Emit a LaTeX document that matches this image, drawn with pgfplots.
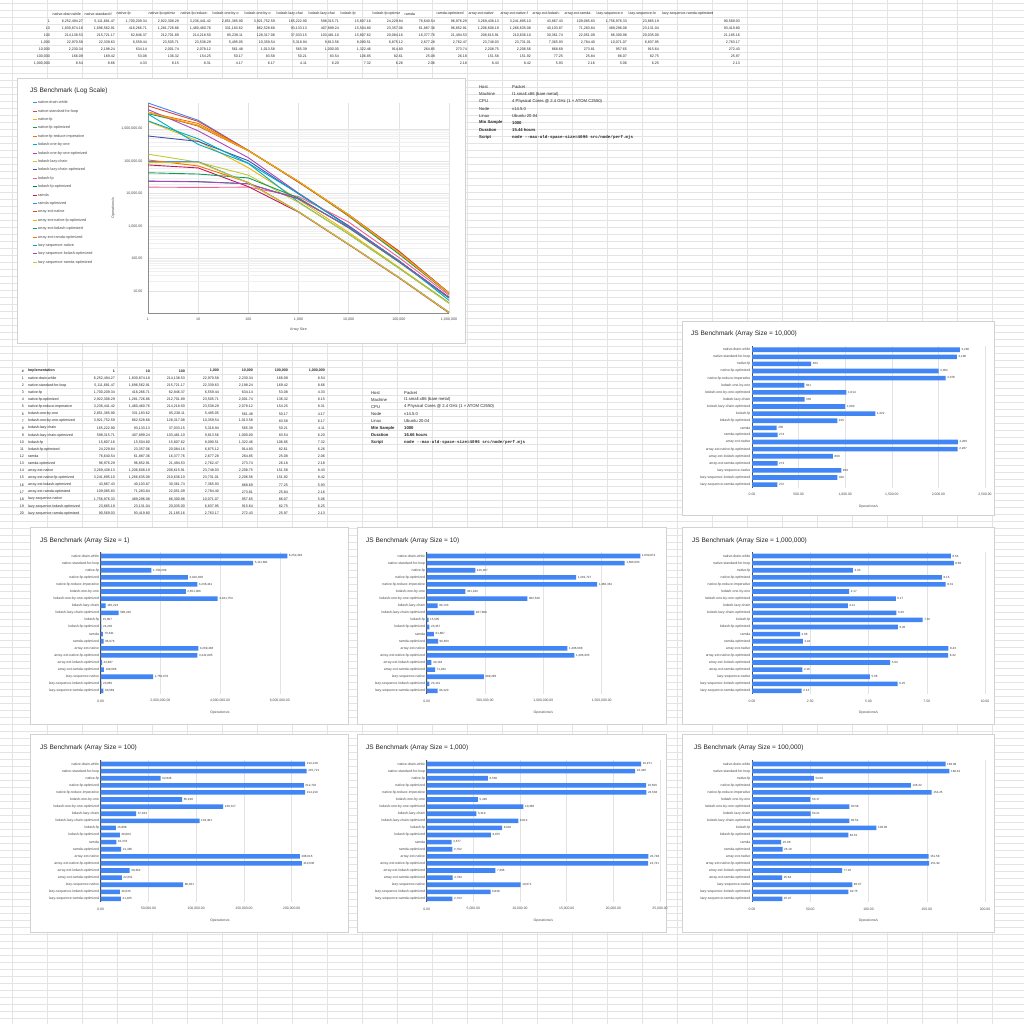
\documentclass[border=0pt]{standalone}
\usepackage{pgfplots}
\usepackage{pgfplotstable}
\pgfplotsset{compat=1.18}
\usepackage{fontspec}
\setmainfont{Liberation Sans}
\setmonofont{Liberation Mono}

\definecolor{s1}{HTML}{4285F4}
\definecolor{s2}{HTML}{DB4437}
\definecolor{s3}{HTML}{F4B400}
\definecolor{s4}{HTML}{0F9D58}
\definecolor{s5}{HTML}{FF6D00}
\definecolor{s6}{HTML}{00ACC1}
\definecolor{s7}{HTML}{AB47BC}
\definecolor{s8}{HTML}{C0CA33}
\definecolor{s9}{HTML}{3F51B5}
\definecolor{s10}{HTML}{F06292}
\definecolor{s11}{HTML}{00796B}
\definecolor{s12}{HTML}{C2185B}
\colorlet{s13}{s1}
\colorlet{s14}{s2}
\colorlet{s15}{s3}
\colorlet{s16}{s4}
\colorlet{s17}{s5}
\colorlet{s18}{s6}
\colorlet{s19}{s7}
\colorlet{s20}{s8}
\definecolor{barblue}{HTML}{4285F4}
\definecolor{sgrid}{HTML}{E4E4E4}
\definecolor{cgrid}{HTML}{E3E3E3}
\definecolor{boxc}{HTML}{D2D2D2}
\definecolor{ttlc}{HTML}{222222}
\definecolor{lbl}{HTML}{4A4A4A}

\pgfplotstableread{
name s1 s10 s100 s1k s10k s100k s1m
native-drain-while 6252494.27 1830874.18 214138.53 22970.58 2230.34 166.09 8.54
native-standard-for-loop 5111681.47 1696562.91 215721.17 22339.63 2198.24 169.42 8.66
native-fp 1700209.34 416266.71 62846.37 6559.44 634.14 53.08 4.33
native-fp-optimized 2922308.29 1281726.86 212701.89 23505.71 2001.74 136.32 8.15
native-fp-reduce-imperative 3236441.42 1460460.76 214218.50 23538.29 2078.12 154.25 8.31
lodash-one-by-one 2851385.90 331183.62 85238.11 5495.05 561.48 50.17 4.17
lodash-one-by-one-optimized 3921752.59 862528.68 128317.08 10359.54 1013.58 83.58 6.17
lodash-lazy-chain 165222.90 93133.13 37033.15 5318.94 565.39 50.21 4.11
lodash-lazy-chain-optimized 598315.71 407899.24 103481.10 9813.56 1000.00 83.54 6.20
lodash-fp 15807.16 15504.80 15807.62 8090.51 1322.46 106.85 7.32
lodash-fp-optimized 24229.84 23357.06 20084.16 6875.12 914.80 82.61 6.26
ramda 76640.54 61887.36 16377.76 2677.28 264.85 25.08 2.06
ramda-optimized 96976.29 96852.91 21494.53 2762.47 273.74 26.18 2.18
array-ext-native 3269438.13 1206608.19 208615.91 23748.03 2208.75 151.58 8.43
array-ext-native-fp-optimized 3241895.10 1266635.08 210636.10 23731.01 2206.56 151.92 8.42
array-ext-lodash-optimized 43867.43 40103.87 30361.74 7365.93 868.69 77.25 5.93
array-ext-ramda-optimized 109085.83 71283.84 22051.09 2784.40 273.81 25.84 2.16
lazy-sequence-native 1756976.33 489296.08 86300.98 10071.07 957.65 86.07 5.06
lazy-sequence-lodash-optimized 23865.19 23131.04 20035.00 6837.95 915.64 82.75 6.25
lazy-sequence-ramda-optimized 90569.03 93419.80 21185.16 2763.17 272.43 25.97 2.13
}\benchI
\pgfplotstabletranspose[colnames from=name]\benchT\benchI

\pgfset{/pgf/number format/fix2/.style={/pgf/number format/.cd,fixed,fixed zerofill,precision=2,1000 sep={,},assume math mode=true}}

\pgfplotsset{
 barst/.style={
  xbar, scale only axis, width=233pt, height=142pt, anchor=south west,
  ymin=-0.5, ymax=19.5, y dir=reverse, xmin=0,
  ytick={0,...,19}, yticklabels from table={\benchI}{name},
  bar width=4.6pt,
  major tick length=0pt,
  axis line style={draw=none},
  xmajorgrids, grid style={draw=cgrid, line width=0.4pt},
  extra x ticks={0}, extra x tick labels={},
  extra x tick style={grid style={draw=black!70, line width=0.5pt}},
  scaled x ticks=false,
  xticklabel style={font=\fontsize{3.4}{4}\selectfont, text=lbl, anchor=center, yshift=-6.5pt, /pgf/number format/fix2},
  yticklabel style={font=\fontsize{3.5}{4}\selectfont, text=lbl, anchor=east, inner sep=0.5pt, xshift=-1pt},
  xlabel={Operations/s},
  xlabel style={font=\fontsize{3.4}{4}\selectfont, text=lbl, at={(axis description cs:0.5,-0.127)}, anchor=center},
  point meta=explicit symbolic,
  every node near coord/.append style={font=\fontsize{3}{3.5}\selectfont, text=black!80, anchor=west, xshift=1.5pt, inner sep=0pt},
  clip=false,
 },
 nnc0/.style={nodes near coords={\pgfmathprintnumber[fixed,precision=0,1000 sep={,},assume math mode=true]{\pgfplotspointmeta}}},
 nnc2/.style={nodes near coords={\pgfmathprintnumber[fixed,fixed zerofill,precision=2,1000 sep={,},assume math mode=true]{\pgfplotspointmeta}}},
}

\newcommand\topcol[2]{\pgfplotstableforeachcolumnelement{#1}\of\benchI\as\cell{%
  \node[tbl, anchor=east] at ({\pgfplotstablerow<19 ? 83+32*\pgfplotstablerow : 740}, {21+7*#2}) {\pgfmathprintnumber[fix2]{\cell}};}}
\newcommand\seccol[2]{\pgfplotstableforeachcolumnelement{#1}\of\benchI\as\cell{%
  \node[tbl, anchor=east] at (#2, {378.3+7.1*\pgfplotstablerow}) {\pgfmathprintnumber[fix2]{\cell}};}}
\newcommand\infotable[4]{%
  \node[inf] at (#1,{#2}) {Host};            \node[inf] at (#1+33,{#2}) {Packet};
  \node[inf] at (#1,{#2+7.1}) {Machine};     \node[inf] at (#1+33,{#2+7.1}) {t1.small.x86 (bare metal)};
  \node[inf] at (#1,{#2+14.2}) {CPU};        \node[inf] at (#1+33,{#2+14.2}) {4 Physical Cores @ 2.4 GHz (1 × ATOM C2550)};
  \node[inf] at (#1,{#2+21.3}) {Node};       \node[inf] at (#1+33,{#2+21.3}) {v14.5.0};
  \node[inf] at (#1,{#2+28.4}) {Linux};      \node[inf] at (#1+33,{#2+28.4}) {#3};
  \node[inf,font=\fontsize{4.2}{5}\selectfont\bfseries] at (#1,{#2+35.5}) {Min Sample}; \node[inf,font=\fontsize{4.2}{5}\selectfont\bfseries] at (#1+33,{#2+35.5}) {1000};
  \node[inf,font=\fontsize{4.2}{5}\selectfont\bfseries] at (#1,{#2+42.6}) {Duration};   \node[inf,font=\fontsize{4.2}{5}\selectfont\bfseries] at (#1+33,{#2+42.6}) {#4};
  \node[inf,font=\fontsize{4.2}{5}\selectfont\bfseries] at (#1,{#2+49.7}) {Script};     \node[inf,font=\fontsize{4.2}{5}\selectfont\ttfamily\bfseries] at (#1+33,{#2+49.7}) {node -{}-max-old-space-size=4096 src/node/perf.mjs};
}

\begin{document}
\begin{tikzpicture}[x=1pt,y=-1pt,
  tbl/.style={font=\fontsize{3.6}{4}\selectfont, inner sep=0pt, text=black!85},
  tblb/.style={tbl, font=\fontsize{3.6}{4}\selectfont\bfseries},
  inf/.style={font=\fontsize{4.2}{5}\selectfont, inner sep=0pt, anchor=west, text=black!85},
  ttl/.style={font=\fontsize{6.5}{7}\selectfont, inner sep=0pt, anchor=west, text=ttlc},
  cbox/.style={draw=boxc, fill=white, line width=0.5pt}]
\fill[white] (0,0) rectangle (1024,1024);
\useasboundingbox (0,0) rectangle (1024,1024);
% spreadsheet grid
\foreach \yy in {3.5,10.5,...,1024}{\draw[sgrid, line width=0.35pt] (0,\yy) -- (1024,\yy);}
\foreach \xx in {12,47,...,1024}{\draw[sgrid, line width=0.35pt] (\xx,0) -- (\xx,1024);}

% top table
\foreach \t [count=\i from 0] in {native-drain-while,native-standard-f,native-fp,native-fp-optimiz,native-fp-reduce-,lodash-one-by-o,lodash-one-by-o,lodash-lazy-chai,lodash-lazy-chai,lodash-fp,lodash-fp-optimiz,ramda,ramda-optimized,array-ext-native,array-ext-native-f,array-ext-lodash-,array-ext-ramda-,lazy-sequence-n,lazy-sequence-lo,lazy-sequence-ramda-optimized}{
  \node[tbl, anchor=west] at ({\i<19 ? 52.5+32*\i : 662}, 14) {\t};
}
\foreach \t [count=\k from 0] in {1,10,100,{1,000},{10,000},{100,000},{1,000,000}}{
  \node[tbl, anchor=east] at (50, {21+7*\k}) {\t};
}
\topcol{s1}{0}\topcol{s10}{1}\topcol{s100}{2}\topcol{s1k}{3}\topcol{s10k}{4}\topcol{s100k}{5}\topcol{s1m}{6}

% second table
\node[tblb, anchor=east] at (24,371) {\#};
\node[tblb, anchor=west] at (28,371) {Implementation};
\node[tblb, anchor=east] at (115,371) {1};
\node[tblb, anchor=east] at (150,371) {10};
\node[tblb, anchor=east] at (185,371) {100};
\node[tblb, anchor=east] at (219,371) {1,000};
\node[tblb, anchor=east] at (253,371) {10,000};
\node[tblb, anchor=east] at (288,371) {100,000};
\node[tblb, anchor=east] at (325,371) {1,000,000};
\pgfplotstableforeachcolumnelement{name}\of\benchI\as\cell{%
  \node[tbl, anchor=west] at (28,{378.3+7.1*\pgfplotstablerow}) {\cell};
  \node[tbl, anchor=east] at (24,{378.3+7.1*\pgfplotstablerow}) {\pgfmathtruncatemacro\rn{\pgfplotstablerow+1}\rn};}
\seccol{s1}{115}\seccol{s10}{150}\seccol{s100}{185}\seccol{s1k}{219}\seccol{s10k}{253}\seccol{s100k}{288}\seccol{s1m}{325}

% info tables
\infotable{479}{87.3}{Ubuntu 20.04}{15.44 hours}
\infotable{371}{392.7}{Ubuntu 20.04}{16.66 hours}

% chart boxes
\draw[cbox] (17,78) rectangle (465,343);
\draw[cbox] (682,321) rectangle (994,515);
\draw[cbox] (30,527) rectangle (348,724);
\draw[cbox] (357,527) rectangle (666,724);
\draw[cbox] (682,527) rectangle (994,724);
\draw[cbox] (30,734) rectangle (348,932);
\draw[cbox] (357,734) rectangle (666,932);
\draw[cbox] (682,734) rectangle (994,932);

% titles
\node[ttl] at (30,91) {JS Benchmark (Log Scale)};
\node[ttl] at (691,334) {JS Benchmark (Array Size = 10,000)};
\node[ttl] at (40,540.7) {JS Benchmark (Array Size = 1)};
\node[ttl] at (366,540.7) {JS Benchmark (Array Size = 10)};
\node[ttl] at (692,540.7) {JS Benchmark (Array Size = 1,000,000)};
\node[ttl] at (40,748) {JS Benchmark (Array Size = 100)};
\node[ttl] at (366,748) {JS Benchmark (Array Size = 1,000)};
\node[ttl] at (694,748) {JS Benchmark (Array Size = 100,000)};

% line chart
\begin{axis}[at={(148pt,-313pt)}, anchor=south west, scale only axis, width=301pt, height=210pt,
 xmode=log, ymode=log, xmin=1, xmax=1000000, ymin=2.06, ymax=6252494.27,
 xtick={1,10,100,1000,10000,100000,1000000},
 xticklabels={1,10,100,{1,000},{10,000},{100,000},{1,000,000}},
 ytick={10,100,1000,10000,100000,1000000},
 yticklabels={10.00,100.00,{1,000.00},{10,000.00},{100,000.00},{1,000,000.00}},
 major tick length=0pt, minor tick length=0pt,
 xmajorgrids, ymajorgrids, yminorgrids,
 major grid style={draw=cgrid, line width=0.45pt},
 minor grid style={draw=cgrid!55, line width=0.3pt},
 axis line style={draw=none},
 xticklabel style={font=\fontsize{3.6}{4}\selectfont, text=lbl, anchor=center, yshift=-6pt},
 yticklabel style={font=\fontsize{3.6}{4}\selectfont, text=lbl, anchor=east, inner sep=0pt, xshift=-5.5pt},
 xlabel={Array Size}, ylabel={Operations/s},
 xlabel style={font=\fontsize{3.6}{4}\selectfont, text=lbl, at={(axis description cs:0.5,-0.081)}, anchor=center},
 ylabel style={font=\fontsize{3.6}{4}\selectfont, text=lbl, at={(axis description cs:-0.116,0.5)}, anchor=center},
 legend cell align=left,
 legend style={at={(axis description cs:-0.3854,1.012)}, anchor=north west, draw=none, fill=none,
   font=\fontsize{3.8}{4}\selectfont, text=lbl, row sep=4.2pt, inner sep=0pt,
   nodes={inner sep=0.3pt, text height=2.8pt, text depth=0.8pt}},
 legend image code/.code={\draw[#1, line width=1pt] (0pt,0pt) -- (4.5pt,0pt);},
]
\draw[black!45, line width=0.5pt] (rel axis cs:0,0) -- (rel axis cs:0,1);
\draw[black!45, line width=0.5pt] (rel axis cs:0,0) -- (rel axis cs:1,0);
\pgfplotsinvokeforeach{1,...,20}{
  \addplot[color=s#1, line width=0.9pt] table[x expr={10^\coordindex}, y index=#1]{\benchT};
}
\pgfplotsinvokeforeach{0,...,19}{
  \pgfplotstablegetelem{#1}{name}\of\benchI
  \addlegendentryexpanded{\pgfplotsretval}
}
\end{axis}

% bar charts
\begin{axis}[barst, nnc0, at={(752pt,-488.15pt)}, width=233pt, xmax=2500, xtick={0,500,1000,1500,2000,2500}]
\addplot[fill=barblue, draw=none] table[x=s10k, y expr=\coordindex, meta=s10k]{\benchI};
\end{axis}
\begin{axis}[barst, nnc0, at={(100.7pt,-694.45pt)}, width=238.7pt, xmax=8000000, xtick={0,2000000,4000000,6000000}]
\addplot[fill=barblue, draw=none] table[x=s1, y expr=\coordindex, meta=s1]{\benchI};
\end{axis}
\begin{axis}[barst, nnc0, at={(426.7pt,-694.45pt)}, width=233.3pt, xmax=2000000, xtick={0,500000,1000000,1500000}]
\addplot[fill=barblue, draw=none] table[x=s10, y expr=\coordindex, meta=s10]{\benchI};
\end{axis}
\begin{axis}[barst, nnc2, at={(752pt,-694.45pt)}, width=233pt, xmax=10, xtick={0,2.5,5,7.5,10}]
\addplot[fill=barblue, draw=none] table[x=s1m, y expr=\coordindex, meta=s1m]{\benchI};
\end{axis}
\begin{axis}[barst, nnc0, at={(100.7pt,-902.45pt)}, width=238.7pt, xmax=250000, xtick={0,50000,100000,150000,200000}]
\addplot[fill=barblue, draw=none] table[x=s100, y expr=\coordindex, meta=s100]{\benchI};
\end{axis}
\begin{axis}[barst, nnc0, at={(426.7pt,-902.45pt)}, width=233.3pt, xmax=25000, xtick={0,5000,10000,15000,20000,25000}]
\addplot[fill=barblue, draw=none] table[x=s1k, y expr=\coordindex, meta=s1k]{\benchI};
\end{axis}
\begin{axis}[barst, nnc2, at={(752pt,-902.45pt)}, width=233pt, xmax=200, xtick={0,50,100,150,200}]
\addplot[fill=barblue, draw=none] table[x=s100k, y expr=\coordindex, meta=s100k]{\benchI};
\end{axis}
\end{tikzpicture}
\end{document}
